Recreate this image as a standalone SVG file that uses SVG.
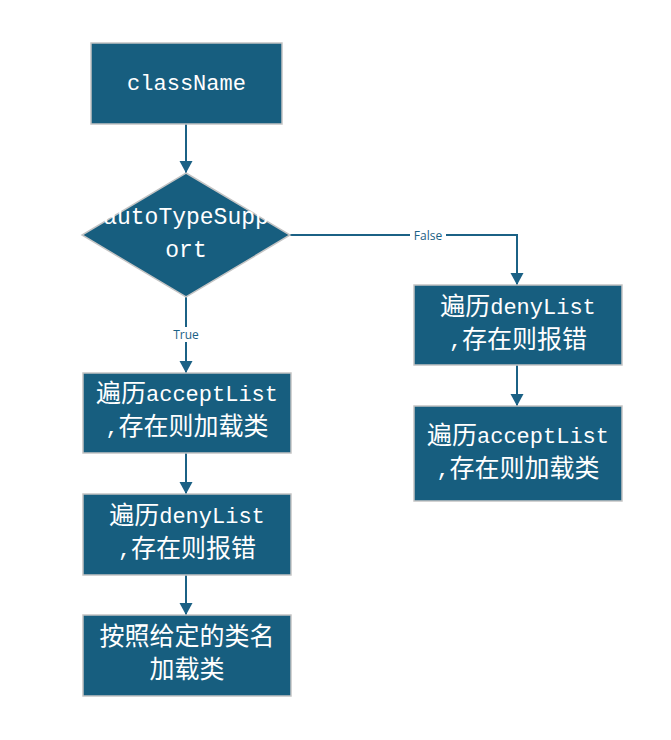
<svg xmlns="http://www.w3.org/2000/svg" width="671" height="740" viewBox="0 0 671 740">
  <style>
    .box { fill: #175e7f; stroke: #c4c4c4; stroke-width: 1.5; }
    .lbl { font-family: "Liberation Mono", "Noto Sans CJK SC", monospace; font-size: 25px; fill: #ffffff; text-anchor: middle; dominant-baseline: central; }
    .lat { font-size: 22px; }
    .edge { fill: none; stroke: #1b6185; stroke-width: 2; }
    .tag { font-family: "Open Sans", "Noto Sans", sans-serif; font-size: 12px; fill: #1b6185; text-anchor: middle; dominant-baseline: central; }
  </style>
  <defs>
    <marker id="arrow" markerUnits="userSpaceOnUse" markerWidth="14" markerHeight="14" refX="12" refY="6.5" orient="auto">
      <path d="M0,0 L12,6.5 L0,13 Z" fill="#1b6185"/>
    </marker>
  </defs>
  <rect width="671" height="740" fill="#ffffff"/>

  <g id="connectors">
    <path class="edge" d="M186,124 V173" marker-end="url(#arrow)"/>
    <path class="edge" d="M186,297 V373" marker-end="url(#arrow)"/>
    <path class="edge" d="M186,453 V494" marker-end="url(#arrow)"/>
    <path class="edge" d="M186,575 V615" marker-end="url(#arrow)"/>
    <path class="edge" d="M290,235 H517 V285" marker-end="url(#arrow)"/>
    <path class="edge" d="M517,365 V406" marker-end="url(#arrow)"/>
    <rect x="169" y="327" width="34" height="15" fill="#ffffff"/>
    <text class="tag" x="186" y="334">True</text>
    <rect x="410" y="227" width="36" height="15" fill="#ffffff"/>
    <text class="tag" x="428" y="235">False</text>
  </g>

  <g id="className">
    <rect class="box" x="91" y="43" width="191" height="81"/>
    <text class="lbl lat" x="186.5" y="84">className</text>
  </g>

  <g id="autoTypeSupport">
    <path class="box" d="M186,173 L290,235 L186,297 L82,235 Z"/>
    <text class="lbl" x="186" y="218" style="font-size:23px">autoTypeSupp</text>
    <text class="lbl" x="186" y="251" style="font-size:23px">ort</text>
  </g>

  <g id="leftAccept">
    <rect class="box" x="83" y="373" width="208" height="80"/>
    <text class="lbl" x="187" y="395">遍历<tspan class="lat">acceptList</tspan></text>
    <text class="lbl" x="187" y="428"><tspan class="lat">,</tspan>存在则加载类</text>
  </g>

  <g id="leftDeny">
    <rect class="box" x="83" y="494" width="208" height="81"/>
    <text class="lbl" x="187" y="517">遍历<tspan class="lat">denyList</tspan></text>
    <text class="lbl" x="187" y="550"><tspan class="lat">,</tspan>存在则报错</text>
  </g>

  <g id="loadByName">
    <rect class="box" x="83" y="615" width="208" height="81"/>
    <text class="lbl" x="187" y="638">按照给定的类名</text>
    <text class="lbl" x="187" y="671">加载类</text>
  </g>

  <g id="rightDeny">
    <rect class="box" x="414" y="285" width="208" height="80"/>
    <text class="lbl" x="518" y="308">遍历<tspan class="lat">denyList</tspan></text>
    <text class="lbl" x="518" y="341"><tspan class="lat">,</tspan>存在则报错</text>
  </g>

  <g id="rightAccept">
    <rect class="box" x="414" y="406" width="208" height="95"/>
    <text class="lbl" x="518" y="437">遍历<tspan class="lat">acceptList</tspan></text>
    <text class="lbl" x="518" y="470"><tspan class="lat">,</tspan>存在则加载类</text>
  </g>
</svg>
